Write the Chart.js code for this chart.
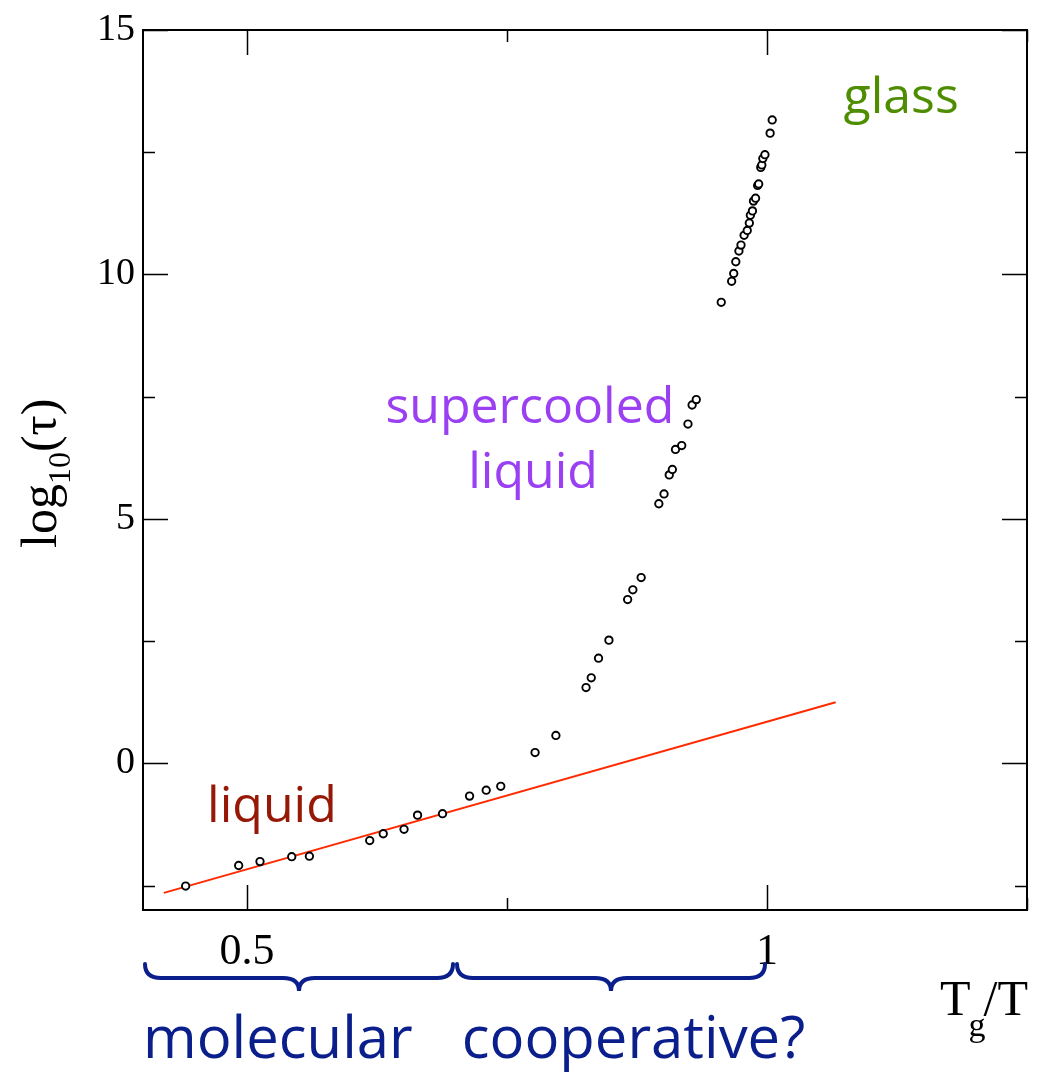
<!DOCTYPE html>
<html>
<head>
<meta charset="utf-8">
<script src="https://cdn.jsdelivr.net/npm/chart.js@4.4.1/dist/chart.umd.min.js"></script>
<style>
  html, body { margin: 0; padding: 0; background: #fff; }
</style>
</head>
<body>
<canvas id="myChart" width="1037" height="1074"></canvas>
<script>
// relaxation time vs. scaled inverse temperature
const tgOverT = [
  0.441, 0.492, 0.5125, 0.543, 0.560, 0.618, 0.631, 0.651, 0.664, 0.688,
  0.714, 0.730, 0.744, 0.777, 0.797, 0.826, 0.831, 0.838, 0.848, 0.866,
  0.871, 0.879, 0.896, 0.901, 0.906, 0.909, 0.912, 0.918, 0.924, 0.928,
  0.932, 0.956, 0.966, 0.968, 0.970, 0.973, 0.975, 0.978, 0.981, 0.983,
  0.984, 0.986, 0.987, 0.989, 0.991, 0.992, 0.994, 0.995, 0.996, 0.998,
  1.003, 1.005
];
const logTau = [
  -2.51, -2.09, -2.01, -1.91, -1.90, -1.58, -1.44, -1.35, -1.06, -1.03,
  -0.67, -0.55, -0.47, 0.22, 0.57, 1.55, 1.75, 2.15, 2.52, 3.35,
  3.55, 3.80, 5.31, 5.51, 5.90, 6.01, 6.42, 6.50, 6.94, 7.33,
  7.44, 9.43, 9.86, 10.02, 10.26, 10.48, 10.60, 10.80, 10.90, 11.05,
  11.21, 11.30, 11.50, 11.56, 11.82, 11.85, 12.19, 12.24, 12.37, 12.45,
  12.89, 13.16
];

// Arrhenius fit through the liquid branch
const fitX = [0.42, 1.066];
const fitY = [-2.65, 1.25];

const xTicks = [0.5, 0.75, 1, 1.25];
const xLabels = ['0.5', '', '1', ''];
const yTicks = [-2.5, 0, 2.5, 5, 7.5, 10, 12.5, 15];
const yLabels = ['', '0', '', '5', '', '10', '', '15'];

const regions = [
  { text: 'glass', x: 1.129, y: 13.3, color: '#4e8c00' },
  { text: 'supercooled', x: 0.772, y: 6.97, color: '#9a40f2' },
  { text: 'liquid', x: 0.775, y: 5.64, color: '#9a40f2' },
  { text: 'liquid', x: 0.524, y: -1.19, color: '#961806' }
];
const braces = [[0.4, 0.7], [0.7, 1.0]];
const braceLabels = [
  { text: 'molecular', x: 0.4 },
  { text: 'cooperative?', x: 0.7065 }
];

const ctx = document.getElementById('myChart').getContext('2d');

const sansFont = '"Open Sans", sans-serif';
const serifFont = '"Liberation Serif", "Times New Roman", serif';

const frame = {
  id: 'frame',
  afterDraw(chart) {
    const { ctx, chartArea: a, scales: { x, y } } = chart;
    ctx.save();

    // box
    ctx.strokeStyle = '#000';
    ctx.lineWidth = 2;
    ctx.strokeRect(a.left, a.top, a.right - a.left, a.bottom - a.top);

    // inward ticks on all four sides
    ctx.lineWidth = 1.5;
    xTicks.forEach((v, i) => {
      const px = Math.round(x.getPixelForValue(v)) + 0.5;
      const len = xLabels[i] ? 25 : 12;
      ctx.beginPath();
      ctx.moveTo(px, a.bottom); ctx.lineTo(px, a.bottom - len);
      ctx.moveTo(px, a.top); ctx.lineTo(px, a.top + len);
      ctx.stroke();
    });
    yTicks.forEach((v, i) => {
      const py = Math.round(y.getPixelForValue(v)) + 0.5;
      const len = yLabels[i] ? 25 : 12;
      ctx.beginPath();
      ctx.moveTo(a.left, py); ctx.lineTo(a.left + len, py);
      ctx.moveTo(a.right, py); ctx.lineTo(a.right - len, py);
      ctx.stroke();
    });

    // region names
    ctx.font = '50px ' + sansFont;
    ctx.textAlign = 'center';
    ctx.textBaseline = 'alphabetic';
    regions.forEach(r => {
      ctx.fillStyle = r.color;
      ctx.fillText(r.text, x.getPixelForValue(r.x), y.getPixelForValue(r.y));
    });

    // curly braces under the axis
    ctx.strokeStyle = '#0a1e8c';
    ctx.lineWidth = 4;
    ctx.lineCap = 'round';
    const top = 964, mid = 978, tip = 991;
    braces.forEach(([v0, v1]) => {
      const x0 = x.getPixelForValue(v0) + 2;
      const x1 = x.getPixelForValue(v1) - 2;
      const xm = (x0 + x1) / 2;
      ctx.beginPath();
      ctx.moveTo(x0, top);
      ctx.quadraticCurveTo(x0, mid, x0 + 16, mid);
      ctx.lineTo(xm - 16, mid);
      ctx.quadraticCurveTo(xm, mid, xm, tip);
      ctx.quadraticCurveTo(xm, mid, xm + 16, mid);
      ctx.lineTo(x1 - 16, mid);
      ctx.quadraticCurveTo(x1, mid, x1, top);
      ctx.stroke();
    });
    ctx.font = '58px ' + sansFont;
    ctx.fillStyle = '#0a1e8c';
    ctx.textAlign = 'left';
    braceLabels.forEach(b => {
      ctx.fillText(b.text, x.getPixelForValue(b.x), 1058);
    });

    // axis titles
    ctx.fillStyle = '#000';
    ctx.font = '50px ' + serifFont;
    ctx.fillText('T', 940, 1015);
    let w = ctx.measureText('T').width;
    ctx.font = '34px ' + serifFont;
    ctx.fillText('g', 940 + w - 2, 1036);
    const wg = ctx.measureText('g').width;
    ctx.font = '50px ' + serifFont;
    ctx.fillText('/T', 940 + w + wg - 4, 1015);

    ctx.translate(56, 548);
    ctx.rotate(-Math.PI / 2);
    ctx.font = '50px ' + serifFont;
    ctx.fillText('log', 0, 0);
    w = ctx.measureText('log').width;
    ctx.font = '32px ' + serifFont;
    ctx.fillText('10', w, 14);
    w += ctx.measureText('10').width;
    ctx.font = '50px ' + serifFont;
    ctx.fillText('(τ)', w, 0);

    ctx.restore();
  }
};

const myChart = new Chart(ctx, {
  type: 'scatter',
  data: {
    datasets: [{
      label: 'tau',
      data: tgOverT.map((v, i) => ({ x: v, y: logTau[i] })),
      pointRadius: 3.7,
      borderWidth: 1.9,
      borderColor: '#000',
      backgroundColor: '#fff'
    },
    {
      label: 'fit',
      data: fitX.map((v, i) => ({ x: v, y: fitY[i] })),
      showLine: true,
      pointRadius: 0,
      borderColor: '#ff2a00',
      borderWidth: 2
    }]
  },
  options: {
    responsive: false,
    animation: false,
    devicePixelRatio: 1,
    layout: { padding: { left: 0, top: 30, right: 10, bottom: 0 } },
    plugins: { legend: { display: false }, tooltip: { enabled: false } },
    scales: {
      x: {
        type: 'linear',
        position: 'bottom',
        min: 0.4,
        max: 1.25,
        afterBuildTicks: scale => { scale.ticks = xTicks.map(v => ({ value: v })); },
        afterFit: scale => {
          scale.height = 164;
          scale.paddingLeft = 0;
          scale.paddingRight = 0;
        },
        grid: { display: false, drawTicks: false },
        border: { display: false },
        ticks: {
          padding: 16,
          color: '#000',
          font: { family: serifFont, size: 44 },
          maxRotation: 0,
          autoSkip: false,
          callback: (v, i) => xLabels[i]
        }
      },
      y: {
        type: 'linear',
        min: -3,
        max: 15,
        afterBuildTicks: scale => { scale.ticks = yTicks.map(v => ({ value: v })); },
        afterFit: scale => {
          scale.width = 143;
          scale.paddingTop = 0;
          scale.paddingBottom = 0;
        },
        grid: { display: false, drawTicks: false },
        border: { display: false },
        ticks: {
          padding: 8,
          color: '#000',
          font: { family: serifFont, size: 38 },
          autoSkip: false,
          callback: (v, i) => yLabels[i]
        }
      }
    }
  },
  plugins: [frame]
});
</script>
</body>
</html>
